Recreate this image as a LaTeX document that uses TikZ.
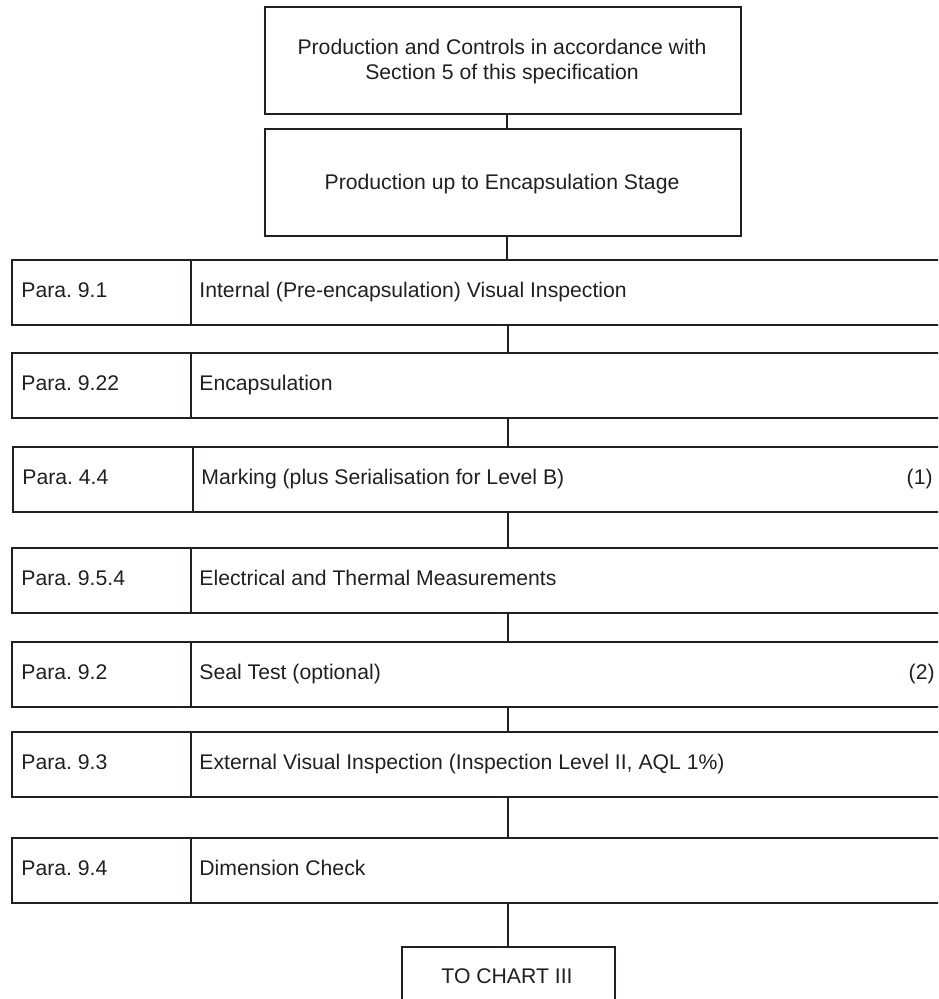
\documentclass[tikz,border=0pt]{standalone}
\usepackage{fontspec}
\setmainfont{Liberation Sans}
\definecolor{ink}{HTML}{231F20}
\frenchspacing
\begin{document}
\begin{tikzpicture}[x=0.5pt,y=-0.5pt,
  frame/.style={draw=ink, line width=1.1pt, inner sep=0pt, anchor=north west},
  txt/.style={text=ink, inner sep=0pt, font=\fontsize{10.6}{12.5}\selectfont},
  link/.style={draw=ink, line width=1.1pt}]
\useasboundingbox (0,0) rectangle (938,999);
\clip (0,0) rectangle (938,999);
% top boxes
\node[frame, minimum width=238pt, minimum height=53.5pt] (b1) at (264,6) {};
\node[txt, align=center] (t1) at (502,62) {Production and Controls in accordance with\\Section 5 of this specification};
\node[frame, minimum width=238pt, minimum height=53.5pt] (b2) at (264,128) {};
\node[txt, anchor=base] (t2) at (502,190) {Production up to Encapsulation Stage};
% rows
\foreach \n/\y/\l/\dv/\pa/\de in {
  1/259/11/190/{Para. 9.1}/{Internal (Pre-encapsulation) Visual Inspection},
  2/352/11/190/{Para. 9.22}/{Encapsulation},
  3/446/12/192/{Para. 4.4}/{Marking (plus Serialisation for Level B)},
  4/547/11/190/{Para. 9.5.4}/{Electrical and Thermal Measurements},
  5/641/11/190/{Para. 9.2}/{Seal Test (optional)},
  6/731/11/190/{Para. 9.3}/{External Visual Inspection (Inspection Level II, AQL 1\%)},
  7/837/11/190/{Para. 9.4}/{Dimension Check}}{
  \pgfmathsetmacro{\pw}{(\dv-\l)*0.5}
  \pgfmathsetmacro{\dw}{(960-\dv)*0.5}
  \node[frame, minimum width=\pw pt, minimum height=32.3pt] (p\n) at (\l,\y) {};
  \node[frame, minimum width=\dw pt, minimum height=32.3pt] (d\n) at (\dv,\y) {};
  \node[txt, anchor=base west] (pt\n) at ([xshift=5pt,yshift=-2.5pt]p\n.west) {\pa};
  \node[txt, anchor=base west] (dt\n) at ([xshift=4.5pt,yshift=-2.5pt]d\n.west) {\de};
}
\coordinate (rx1) at (933,0);
\coordinate (rx2) at (935,0);
\node[txt, anchor=base east] (n1) at ([yshift=-2.5pt]d3.west -| rx1) {(1)};
\node[txt, anchor=base east] (n2) at ([yshift=-2.5pt]d5.west -| rx2) {(2)};
% bottom box
\node[frame, minimum width=106.5pt, minimum height=40pt] (b3) at (401,946) {};
\node[txt, anchor=base] (t3) at (507,983) {TO CHART III};
% connectors
\coordinate (cx) at (508,0);
\coordinate (ct) at (507,0);
\draw[link] (b1.south -| ct) -- (b2.north -| ct);
\draw[link] (b2.south -| ct) -- (d1.north -| ct);
\draw[link] (d1.south -| cx) -- (d2.north -| cx);
\draw[link] (d2.south -| cx) -- (d3.north -| cx);
\draw[link] (d3.south -| cx) -- (d4.north -| cx);
\draw[link] (d4.south -| cx) -- (d5.north -| cx);
\draw[link] (d5.south -| cx) -- (d6.north -| cx);
\draw[link] (d6.south -| cx) -- (d7.north -| cx);
\draw[link] (d7.south -| cx) -- (b3.north -| cx);
\end{tikzpicture}
\end{document}
